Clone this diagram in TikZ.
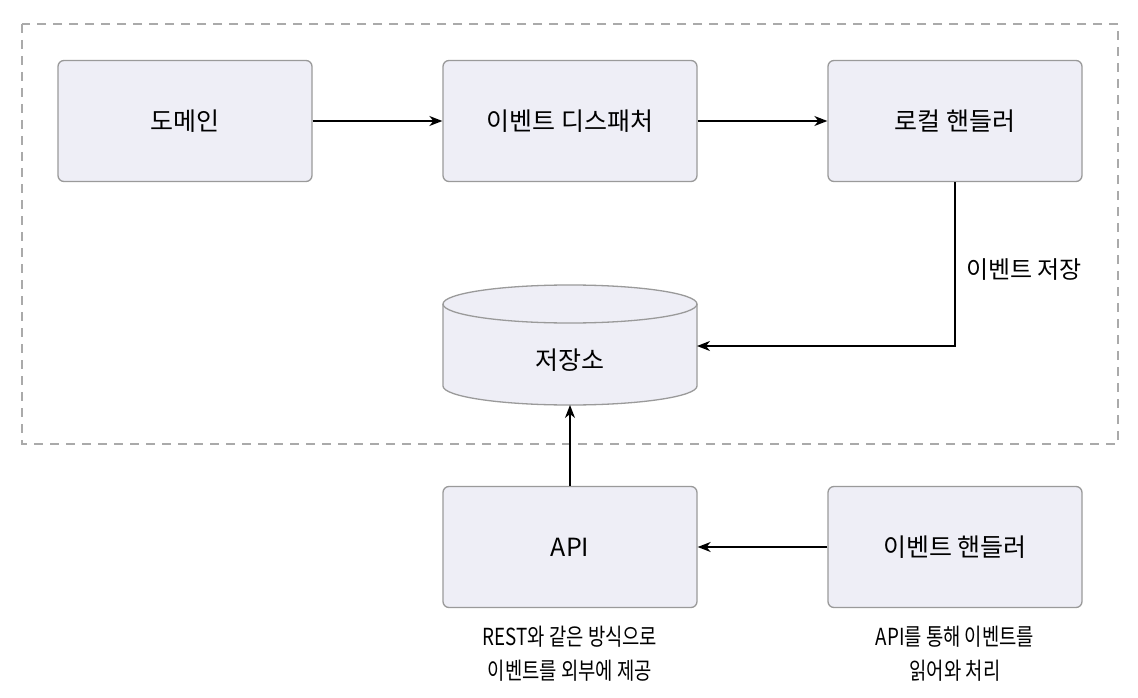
\documentclass[tikz,border=0pt]{standalone}
\usepackage{fontspec}
\setmainfont{Noto Sans CJK KR}
\usetikzlibrary{arrows.meta}
\definecolor{boxfill}{HTML}{EEEEF6}
\definecolor{boxline}{HTML}{9A9A9A}
\definecolor{dashline}{HTML}{AAAAAA}
\begin{document}
\begin{tikzpicture}[x=1pt,y=-1pt,
  box/.style={draw=boxline,fill=boxfill,line width=1.3pt,rounded corners=6pt,minimum width=254pt,minimum height=121pt,inner sep=0pt,font=\fontsize{25}{30}\selectfont,anchor=center},
  conn/.style={line width=1.4pt,-{Stealth[length=13pt,width=10pt,inset=4pt]}},
  note/.style={font=\fontsize{23.5}{34}\selectfont,align=center,inner sep=0pt,xscale=0.8,transform shape}]
\useasboundingbox (0,0) rectangle (1138,698);
\draw[dashline,line width=2pt,dash pattern=on 9pt off 7pt] (22,24) rectangle (1118,444);
\node[box] (dom) at (185,121) {도메인};
\node[box] (disp) at (570,121) {이벤트 디스패처};
\node[box] (local) at (955,121) {로컬 핸들러};
\node[box] (api) at (570,547) {API};
\node[box] (eh) at (955,547) {이벤트 핸들러};
% cylinder
\path[draw=boxline,fill=boxfill,line width=1.3pt] (443,304) -- (443,386) arc[start angle=180,end angle=360,x radius=127pt,y radius=19pt] -- (697,304) arc[start angle=0,end angle=180,x radius=127pt,y radius=19pt] -- cycle;
\draw[boxline,line width=1.3pt] (443,304) arc[start angle=180,end angle=360,x radius=127pt,y radius=19pt];
\node[inner sep=0pt,font=\fontsize{25}{30}\selectfont] (store) at (570,360) {저장소};
\coordinate (storeR) at (697,346);
\coordinate (storeB) at (570,405);
\coordinate (bend) at (955,346);
\draw[conn] (dom) -- (disp);
\draw[conn] (disp) -- (local);
\draw[conn] (local.south) -- (bend) -- (storeR);
\draw[conn] (api.north) -- (storeB);
\draw[conn] (eh) -- (api);
\node[inner sep=0pt,font=\fontsize{24}{30}\selectfont,anchor=west] (lbl) at (966,270) {이벤트 저장};
\node[note] (apinote) at (570,654) {REST와 같은 방식으로\\이벤트를 외부에 제공};
\node[note] (ehnote) at (955,654) {API를 통해 이벤트를\\읽어와 처리};
\end{tikzpicture}
\end{document}
